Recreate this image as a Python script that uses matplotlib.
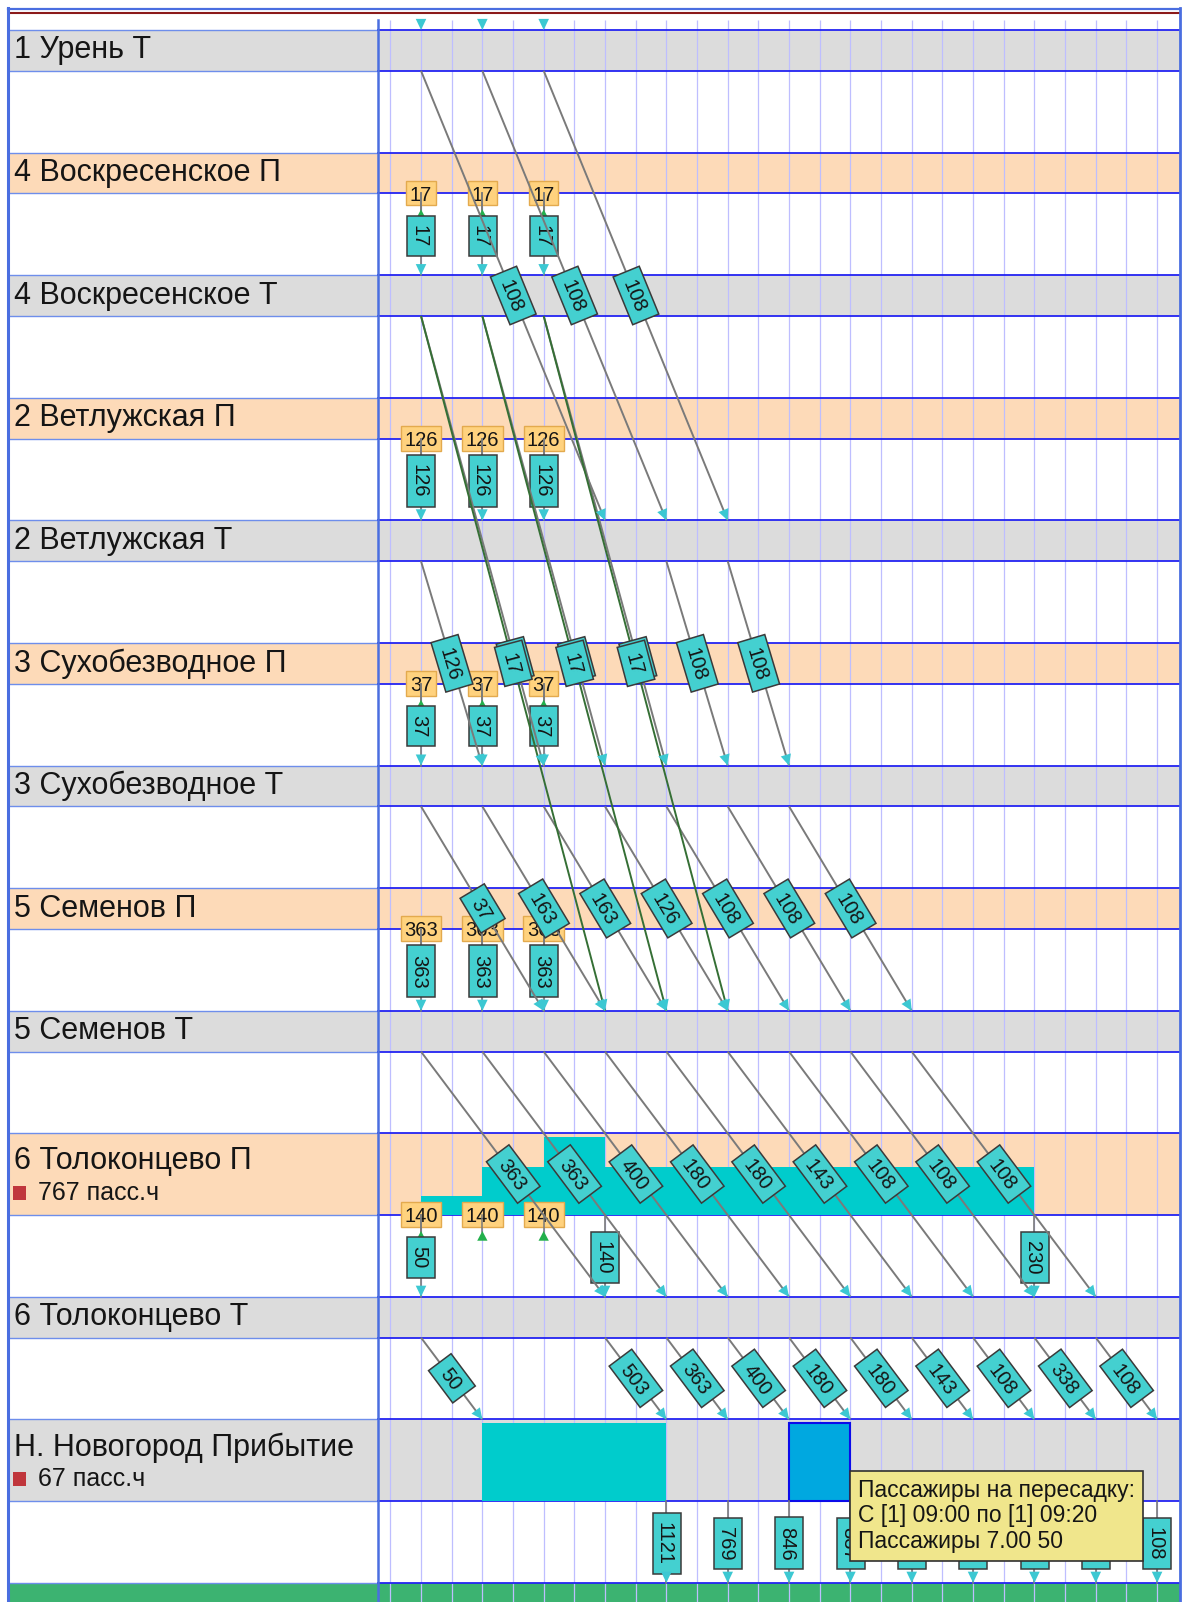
import math
import matplotlib
matplotlib.use("Agg")
import matplotlib.pyplot as plt
from matplotlib.path import Path
from matplotlib.patches import Rectangle

plt.rcParams['font.family'] = ['Liberation Sans', 'DejaVu Sans']

# ------------------------------------------------------------------ data
stations = ["1 Урень Т", "4 Воскресенское П", "4 Воскресенское Т",
            "2 Ветлужская П", "2 Ветлужская Т", "3 Сухобезводное П",
            "3 Сухобезводное Т", "5 Семенов П", "5 Семенов Т",
            "6 Толоконцево П", "6 Толоконцево Т", "Н. Новогород Прибытие"]
station_is_platform = [False, True, False, True, False, True,
                       False, True, False, True, False, False]

entry_times = ["07:00", "07:20", "07:40"]

board_rows = [1, 1, 1, 3, 3, 3, 5, 5, 5, 7, 7, 7, 9, 9, 9]
board_times = ["07:00", "07:20", "07:40"] * 5
board_values = [17, 17, 17, 126, 126, 126, 37, 37, 37, 363, 363, 363, 140, 140, 140]

depart_rows = [1, 1, 1, 3, 3, 3, 5, 5, 5, 7, 7, 7, 9, 9, 9,
               11, 11, 11, 11, 11, 11, 11, 11, 11]
depart_times = (["07:00", "07:20", "07:40"] * 4 + ["07:00", "08:00", "10:20"] +
                ["08:20", "08:40", "09:00", "09:20", "09:40", "10:00", "10:20", "10:40", "11:00"])
depart_values = [17, 17, 17, 126, 126, 126, 37, 37, 37, 363, 363, 363, 50, 140, 230,
                 1121, 769, 846, 837, 712, 653, 518, 447, 108]

flow_from = [0] * 3 + [2] * 3 + [2] * 3 + [4] * 3 + [6] * 7 + [8] * 9 + [10] * 10
flow_to = [4] * 3 + [6] * 3 + [8] * 3 + [6] * 3 + [8] * 7 + [10] * 9 + [11] * 10
flow_t0 = ["07:00", "07:20", "07:40",
           "07:00", "07:20", "07:40",
           "07:00", "07:20", "07:40",
           "07:00", "08:20", "08:40",
           "07:00", "07:20", "07:40", "08:00", "08:20", "08:40", "09:00",
           "07:00", "07:20", "07:40", "08:00", "08:20", "08:40", "09:00", "09:20", "09:40",
           "07:00", "08:00", "08:20", "08:40", "09:00", "09:20", "09:40", "10:00", "10:20", "10:40"]
flow_t1 = ["08:00", "08:20", "08:40",
           "07:40", "08:00", "08:20",
           "08:00", "08:20", "08:40",
           "07:20", "08:40", "09:00",
           "07:40", "08:00", "08:20", "08:40", "09:00", "09:20", "09:40",
           "08:00", "08:20", "08:40", "09:00", "09:20", "09:40", "10:00", "10:20", "10:40",
           "07:20", "08:20", "08:40", "09:00", "09:20", "09:40", "10:00", "10:20", "10:40", "11:00"]
flow_values = [108, 108, 108, 17, 17, 17, 17, 17, 17, 126, 108, 108,
               37, 163, 163, 126, 108, 108, 108,
               363, 363, 400, 180, 180, 143, 108, 108, 108,
               50, 503, 363, 400, 180, 180, 143, 108, 338, 108]
flow_transfer = [0, 0, 0, 0, 0, 0, 1, 1, 1] + [0] * 29
flow_label_at = [0.5] * 3 + [0.765] * 3 + [0.5] * 32

WAIT_ROW = 9
wait_start = ["07:00", "07:20", "07:40", "08:00"]
wait_end = ["07:20", "07:40", "08:00", "10:20"]
wait_pax = [90, 230, 370, 230]

XFER_ROW = 11
xfer_start = ["07:20", "09:00"]
xfer_end = ["08:20", "09:20"]
xfer_pax = [50, 50]
xfer_selected = [False, True]

tooltip_lines = ["Пассажиры на пересадку:", "С [1] 09:00 по [1] 09:20", "Пассажиры 7.00 50"]

# ------------------------------------------------------------------ layout / style
W, H = 1191, 1602
X_LEFT, X_DIV, X_RIGHT = 8, 377, 1180
T_LEFT, T_RIGHT = 405.65, 667.47          # visible time window (minutes)
TOP0, BAND, GAP = 30.0, 40.8, 81.8
GRID_TOP = 20

PEACH, GREY = '#FDDAB8', '#DCDCDC'
BLUE_LINE, BLUE_LIGHT, FRAME = '#2323F2', '#6E8EEB', '#4A6EE0'
GRID = '#BEBEFF'
LINE_GREY, LINE_GREEN = '#7A7A7A', '#356F35'
TEAL_BOX, BOX_EDGE = '#44D0D0', '#3A3A3A'
ARROW = '#3CC8D2'
ORANGE, ORANGE_EDGE = '#FFD27E', '#E3AA4E'
GREEN_TRI = '#22B04C'
WAIT_FILL, SEL_FILL, SEL_EDGE = '#00CCCC', '#00A8E0', '#0B0BEA'
TXT = '#151515'
NUM_FS = 14.5
TIP_FS = 16.5


def tmin(s):
    h, m = s.split(":")
    return int(h) * 60 + int(m)


class TagBox:
    """Rectangle around digits with separate horizontal / vertical padding."""
    def __init__(self, padx, half_h):
        self.padx, self.half_h = padx, half_h

    def __call__(self, x0, y0, width, height, mutation_size):
        m = mutation_size
        cy = y0 + height - 0.358 * m
        xl, xr = x0 - self.padx * m, x0 + width + self.padx * m
        yb, yt = cy - self.half_h * m, cy + self.half_h * m
        return Path([(xl, yb), (xr, yb), (xr, yt), (xl, yt), (xl, yb)], closed=True)


n = len(stations)
tall = [i in (WAIT_ROW, XFER_ROW) for i in range(n)]
heights = [BAND * 2 if t else BAND for t in tall]
tops, bottoms = [], []
y = TOP0
for h in heights:
    tops.append(y)
    bottoms.append(y + h)
    y += h + GAP
green_top = bottoms[-1] + GAP

fig = plt.figure(figsize=(W / 100, H / 100), dpi=100)
fig.patch.set_facecolor('white')
ax = fig.add_axes([X_DIV / W, 0, (X_RIGHT - X_DIV) / W, 1])
axl = fig.add_axes([X_LEFT / W, 0, (X_DIV - X_LEFT) / W, 1])
LW_L = X_DIV - X_LEFT
for a in (ax, axl):
    a.set_ylim(H, 0)
    a.axis('off')
ax.set_xlim(T_LEFT, T_RIGHT)
axl.set_xlim(0, LW_L)


def arrow_head(x0, y0, x1, y1, color, z, hl=0.8, hw=0.38):
    f = 0.02
    ax.annotate('', xy=(x1, y1), xytext=(x1 - (x1 - x0) * f, y1 - (y1 - y0) * f),
                arrowprops=dict(arrowstyle=f'-|>,head_length={hl},head_width={hw}',
                                color=color, lw=0, shrinkA=0, shrinkB=0, mutation_scale=10),
                zorder=z, annotation_clip=False)


# bands
for i in range(n):
    col = PEACH if station_is_platform[i] else GREY
    ax.add_patch(Rectangle((T_LEFT, tops[i]), T_RIGHT - T_LEFT, heights[i], fc=col, ec='none', zorder=0.5))
    axl.add_patch(Rectangle((0, tops[i]), LW_L, heights[i], fc=col, ec='none', zorder=0.5))
ax.add_patch(Rectangle((T_LEFT, green_top), T_RIGHT - T_LEFT, H - green_top, fc='#3CB371', ec='none', zorder=0.5))
axl.add_patch(Rectangle((0, green_top), LW_L, H - green_top, fc='#3CB371', ec='none', zorder=0.5))

# grid
grid_t = list(range(410, int(T_RIGHT) + 1, 10))
ax.vlines(grid_t, GRID_TOP, H, color=GRID, lw=0.9, zorder=1.5)
ys = tops + bottoms + [green_top]
ax.hlines(ys, T_LEFT, T_RIGHT, color=BLUE_LINE, lw=1.3, zorder=2)
axl.hlines(ys, 0, LW_L, color=BLUE_LIGHT, lw=1.0, zorder=2)

# station labels
for i, name in enumerate(stations):
    if tall[i]:
        axl.text(6, tops[i] + 28, name, va='center', ha='left', fontsize=22, color=TXT, zorder=3)
        if i == WAIT_ROW:
            ph = sum(p * (tmin(e) - tmin(s)) for s, e, p in zip(wait_start, wait_end, wait_pax)) / 60
        else:
            ph = sum(p * (tmin(e) - tmin(s)) for s, e, p in zip(xfer_start, xfer_end, xfer_pax)) / 60
        axl.add_patch(Rectangle((4.5, tops[i] + 53), 13, 14, fc='#C0363C', ec='none', zorder=3))
        axl.text(29.8, tops[i] + 60, f"{round(ph)} пасс.ч", va='center', ha='left',
                 fontsize=18, color=TXT, zorder=3)
    else:
        axl.text(6, (tops[i] + bottoms[i]) / 2, name, va='center', ha='left',
                 fontsize=22, color=TXT, zorder=3)

# waiting passengers (step areas)
sc = 0.95 * heights[WAIT_ROW] / max(wait_pax)
ax.bar([tmin(s) for s in wait_start], [-p * sc for p in wait_pax],
       width=[tmin(e) - tmin(s) for s, e in zip(wait_start, wait_end)],
       bottom=bottoms[WAIT_ROW], align='edge', color=WAIT_FILL, lw=0, zorder=2.5)
sc2 = 0.95 * heights[XFER_ROW] / max(xfer_pax)
for s, e, p, sel in zip(xfer_start, xfer_end, xfer_pax, xfer_selected):
    ax.bar(tmin(s), -p * sc2, width=tmin(e) - tmin(s), bottom=bottoms[XFER_ROW], align='edge',
           color=SEL_FILL if sel else WAIT_FILL, edgecolor=SEL_EDGE if sel else 'none',
           lw=1.5 if sel else 0, zorder=2.5)

# entry arrows
for t in entry_times:
    arrow_head(tmin(t), tops[0] - 10, tmin(t), tops[0], ARROW, 4.5)

# boardings
for r, t, v in zip(board_rows, board_times, board_values):
    x, yb = tmin(t), bottoms[r]
    ax.text(x, yb, str(v), ha='center', va='center_baseline', rotation_mode='anchor',
            fontsize=NUM_FS, color=TXT, zorder=3,
            bbox=dict(boxstyle=TagBox(0.17, 0.61), fc=ORANGE, ec=ORANGE_EDGE, lw=1.0))
    ax.plot([x, x], [yb, yb + 17], color=LINE_GREY, lw=1.1, zorder=3.2)
    arrow_head(x, yb + 30, x, yb + 16, GREEN_TRI, 3.4, hl=0.7, hw=0.37)

# departures (vertical)
for r, t, v in zip(depart_rows, depart_times, depart_values):
    x, y0 = tmin(t), bottoms[r]
    y1 = tops[r + 1] if r + 1 < n else green_top
    ax.plot([x, x], [y0, y1], color=LINE_GREY, lw=1.2, zorder=3.2)
    ax.text(x, (y0 + y1) / 2 + 1.5, str(v), rotation=-90, rotation_mode='anchor',
            ha='center', va='center_baseline', fontsize=NUM_FS, color=TXT, zorder=3.5,
            bbox=dict(boxstyle=TagBox(0.45, 0.70), fc=TEAL_BOX, ec=BOX_EDGE, lw=1.1))
    arrow_head(x, y0, x, y1, ARROW, 4.5)

# flows (diagonal)
for i in range(len(flow_from)):
    x0, y0 = tmin(flow_t0[i]), bottoms[flow_from[i]]
    x1, y1 = tmin(flow_t1[i]), tops[flow_to[i]]
    col = LINE_GREEN if flow_transfer[i] else LINE_GREY
    ax.plot([x0, x1], [y0, y1], color=col, lw=1.4, zorder=4 + 0.1 * flow_transfer[i],
            solid_capstyle='butt')
    arrow_head(x0, y0, x1, y1, ARROW, 4.5)
    f = flow_label_at[i]
    lx, ly = x0 + f * (x1 - x0), y0 + f * (y1 - y0)
    p0 = ax.transData.transform((x0, y0))
    p1 = ax.transData.transform((x1, y1))
    ang = math.degrees(math.atan2(p1[1] - p0[1], p1[0] - p0[0]))
    ax.text(lx, ly, str(flow_values[i]), rotation=ang, rotation_mode='anchor',
            ha='center', va='center_baseline', fontsize=NUM_FS, color=TXT, zorder=6,
            bbox=dict(boxstyle=TagBox(0.45, 0.70), fc=TEAL_BOX, ec=BOX_EDGE, lw=1.1))

# tooltip for the selected transfer box
sel = xfer_selected.index(True)
tip_pad = 0.33
ax.annotate("\n".join(tooltip_lines), xy=(tmin(xfer_end[sel]), tops[XFER_ROW] + 51.6),
            xytext=(tip_pad * TIP_FS, -tip_pad * TIP_FS), textcoords='offset points',
            ha='left', va='top', fontsize=TIP_FS, color=TXT, linespacing=1.15,
            zorder=10, annotation_clip=False,
            bbox=dict(boxstyle=f'square,pad={tip_pad}', fc='#F0E68C', ec='#303030', lw=1.2))

# frame
fr = fig.add_axes([0, 0, 1, 1])
fr.set_xlim(0, W)
fr.set_ylim(H, 0)
fr.axis('off')
fr.set_zorder(5)
fr.plot([X_LEFT, X_RIGHT], [8.5, 8.5], color=FRAME, lw=1.6)
fr.plot([X_LEFT + 1, X_RIGHT], [12.5, 12.5], color='#8B1A1A', lw=1.5)
fr.plot([X_LEFT, X_LEFT], [8, H], color=FRAME, lw=2.2)
fr.plot([X_RIGHT, X_RIGHT], [8, H], color=FRAME, lw=2.0)
fr.plot([X_DIV + 0.5, X_DIV + 0.5], [GRID_TOP, H], color=FRAME, lw=1.8)

fig.savefig("out.png", dpi=100, facecolor='white')
